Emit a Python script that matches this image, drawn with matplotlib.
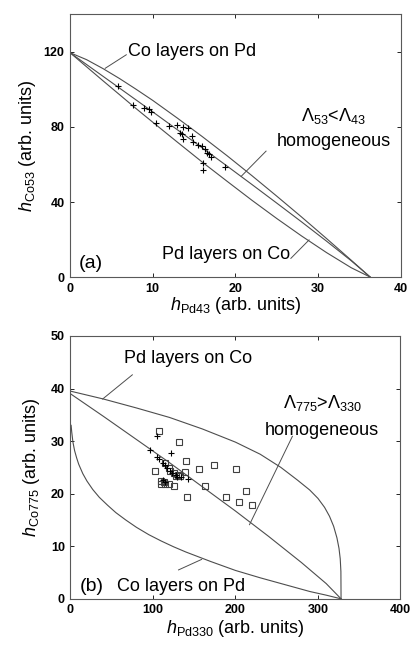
import matplotlib
matplotlib.use("Agg")
import matplotlib.pyplot as plt

# ── panel (a): Co53 / Pd43 ───────────────────────────────────────────────
a_curve_x = [0, 2, 4, 6, 8, 10, 13, 16, 19, 22, 25, 28, 31, 34, 36.3]
a_co_on_pd = [119.5, 115.8, 111.0, 105.7, 100.0, 94.1, 84.6, 74.8, 64.6, 54.0, 43.1, 32.0, 20.6, 9.0, 0]
a_homog = [119.5, 113.2, 106.9, 100.6, 94.3, 88.0, 78.4, 68.8, 59.1, 49.3, 39.4, 29.4, 19.2, 8.7, 0]
a_pd_on_co = [119.5, 112.0, 104.5, 97.1, 89.7, 82.5, 71.8, 61.2, 51.0, 40.9, 31.2, 21.9, 13.1, 5.0, 0]

a_pts_x = [5.8, 7.6, 9.0, 9.5, 9.8, 10.4, 12.0, 12.9, 13.6, 14.3, 13.3, 13.5, 13.6, 14.7,
           14.9, 15.5, 15.9, 16.3, 16.5, 16.8, 17.1, 16.1, 18.7, 16.1]
a_pts_y = [101.6, 91.6, 90.3, 89.5, 88.0, 82.3, 80.5, 80.9, 80.2, 79.3, 76.6, 76.0, 73.8, 75.2,
           72.0, 70.4, 69.9, 68.4, 66.3, 65.5, 63.9, 60.9, 58.8, 56.8]

# ── panel (b): Co775 / Pd330 ─────────────────────────────────────────────
b_upper_x = [0, 40, 80, 120, 160, 200, 230, 255, 275, 290, 300, 308, 314, 319, 323, 325.5,
             327, 327.8, 328]
b_pd_on_co = [39.5, 38.0, 36.3, 34.5, 32.3, 29.8, 27.5, 25.0, 22.6, 20.7, 19.1, 17.4, 15.7,
              13.8, 11.6, 9.6, 7.6, 5.2, 0]
b_mid_x = [0, 40, 80, 120, 160, 200, 240, 280, 310, 328]
b_homog = [39.0, 34.7, 30.3, 25.9, 21.3, 16.7, 11.9, 6.9, 2.9, 0]
b_lower_x = [0.8, 1.5, 3, 5, 7.5, 10, 15, 20, 27, 35, 45, 55, 67, 80, 95, 110, 125, 140, 170,
             200, 230, 260, 290, 310, 328]
b_co_on_pd = [33.0, 31.8, 29.8, 28.2, 26.8, 25.6, 23.8, 22.4, 20.8, 19.3, 17.8, 16.4, 15.0,
              13.6, 12.2, 11.0, 9.9, 8.9, 7.1, 5.4, 4.0, 2.7, 1.4, 0.7, 0]

b_sq_x = [107.2, 131.2, 139.9, 156.4, 174.4, 201.1, 102.0, 139.2, 162.7, 141.6, 188.4, 204.4,
          213.1, 220.3, 109.2, 113.2, 115.2, 109.2, 119.2, 125.2, 115.2, 119.2, 121.2, 125.2,
          130.4, 133.2, 128.0]
b_sq_y = [32.0, 29.8, 26.2, 24.7, 25.4, 24.7, 24.4, 24.2, 21.5, 19.4, 19.4, 18.5,
          20.6, 17.9, 22.5, 22.3, 21.9, 21.9, 21.9, 21.5, 25.8, 24.8, 24.4, 24.0,
          23.6, 23.4, 23.4]
b_pl_x = [105.2, 96.0, 122.0, 105.2, 107.2, 112.0, 115.0, 117.2, 121.2, 123.2, 128.0, 129.2,
          134.4, 142.3, 112.0, 114.4]
b_pl_y = [31.0, 28.3, 27.7, 26.9, 26.5, 25.8, 25.5, 24.8, 24.4, 23.9, 23.6, 23.1,
          23.1, 22.8, 22.6, 22.3]

plt.rcParams["font.family"] = ["Liberation Sans", "DejaVu Sans"]
plt.rcParams["mathtext.fontset"] = "custom"
plt.rcParams["mathtext.rm"] = "Liberation Sans"
plt.rcParams["mathtext.it"] = "Liberation Sans:italic"
plt.rcParams["mathtext.bf"] = "Liberation Sans:bold"

LC = "0.3"
FS = 13

fig = plt.figure(figsize=(4.12, 6.46), dpi=100)
ax1 = fig.add_axes([0.170, 0.571, 0.803, 0.407])
ax2 = fig.add_axes([0.171, 0.073, 0.801, 0.407])


def style(ax):
    ax.tick_params(direction="in", top=True, right=True, length=3, width=0.6,
                   labelsize=9, pad=4)
    for lab in ax.get_xticklabels() + ax.get_yticklabels():
        lab.set_fontweight("bold")
    for s in ax.spines.values():
        s.set_linewidth(0.8)
        s.set_color("0.35")


# ── (a) ──
for yy in (a_co_on_pd, a_homog, a_pd_on_co):
    ax1.plot(a_curve_x, yy, color=LC, lw=0.8)
ax1.plot(a_pts_x, a_pts_y, "+", color="k", ms=5, mew=0.8)
ax1.set_xlim(0, 40)
ax1.set_ylim(0, 140)
ax1.set_xticks([0, 10, 20, 30, 40])
ax1.set_yticks([0, 40, 80, 120])
style(ax1)
ax1.set_xlabel(r"$h_{\mathrm{Pd43}}$ (arb. units)", fontsize=FS, labelpad=0)
ax1.set_ylabel(r"$h_{\mathrm{Co53}}$ (arb. units)", fontsize=FS, labelpad=4)

ax1.text(7.0, 120, "Co layers on Pd", fontsize=FS, va="center", ha="left")
ax1.plot([6.8, 4.25], [118.4, 111.2], color=LC, lw=0.7)
ax1.text(31.9, 86, r"$\mathit{Λ}_{53}$<$\mathit{Λ}_{43}$", fontsize=FS,
         va="center", ha="center")
ax1.text(31.9, 72, "homogeneous", fontsize=FS, va="center", ha="center")
ax1.plot([23.7, 20.7], [67.1, 53.7], color=LC, lw=0.7)
ax1.text(11.1, 12, "Pd layers on Co", fontsize=FS, va="center", ha="left")
ax1.plot([26.7, 28.9], [10.0, 19.8], color=LC, lw=0.7)
ax1.text(1.0, 7.5, "(a)", fontsize=14, va="center", ha="left")

# ── (b) ──
ax2.plot(b_upper_x, b_pd_on_co, color=LC, lw=0.8)
ax2.plot(b_mid_x, b_homog, color=LC, lw=0.8)
ax2.plot(b_lower_x, b_co_on_pd, color=LC, lw=0.8)
ax2.plot(b_sq_x, b_sq_y, "s", mfc="none", mec="0.25", ms=5, mew=0.8)
ax2.plot(b_pl_x, b_pl_y, "+", color="k", ms=5, mew=0.8)
ax2.set_xlim(0, 400)
ax2.set_ylim(0, 50)
ax2.set_xticks([0, 100, 200, 300, 400])
ax2.set_yticks([0, 10, 20, 30, 40, 50])
style(ax2)
ax2.set_xlabel(r"$h_{\mathrm{Pd330}}$ (arb. units)", fontsize=FS, labelpad=1)
ax2.set_ylabel(r"$h_{\mathrm{Co775}}$ (arb. units)", fontsize=FS, labelpad=6)

ax2.text(65, 45.8, "Pd layers on Co", fontsize=FS, va="center", ha="left")
ax2.plot([75, 39], [42.6, 38.0], color=LC, lw=0.7)
ax2.text(305, 37.2, r"$\mathit{Λ}_{775}$>$\mathit{Λ}_{330}$", fontsize=FS,
         va="center", ha="center")
ax2.text(305, 32.1, "homogeneous", fontsize=FS, va="center", ha="center")
ax2.plot([269, 217], [30.9, 14.1], color=LC, lw=0.7)
ax2.text(11, 2.3, "(b)", fontsize=14, va="center", ha="left")
ax2.text(57, 2.3, "Co layers on Pd", fontsize=FS, va="center", ha="left")
ax2.plot([131, 159], [5.5, 7.5], color=LC, lw=0.7)

fig.savefig("out.png", dpi=100)
